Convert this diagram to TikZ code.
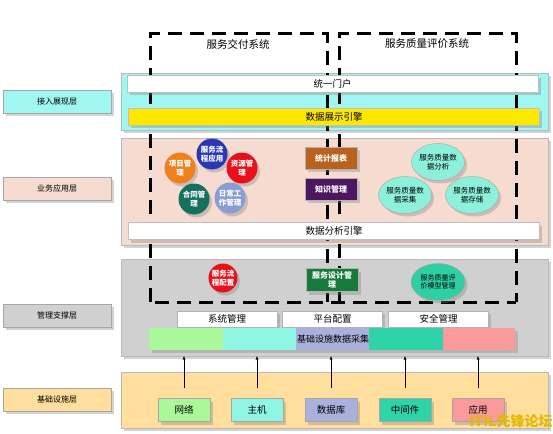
\documentclass[tikz,border=0pt]{standalone}
\usepackage{fontspec}
\setmainfont{Noto Sans CJK SC}
\usepackage{tikz}
\usetikzlibrary{shapes, arrows.meta, positioning, shadows}
\definecolor{accesscyan}{RGB}{160, 246, 240}
\definecolor{bizsalmon}{RGB}{246, 220, 208}
\definecolor{mgmtgrey}{RGB}{208, 208, 208}
\definecolor{infraorange}{RGB}{255, 222, 158}
\definecolor{showyellow}{RGB}{255, 232, 0}
\definecolor{projorange}{RGB}{240, 128, 30}
\definecolor{flowblue}{RGB}{42, 56, 184}
\definecolor{resred}{RGB}{232, 16, 26}
\definecolor{contteal}{RGB}{22, 112, 94}
\definecolor{dailylav}{RGB}{138, 156, 212}
\definecolor{statbrown}{RGB}{184, 98, 30}
\definecolor{knowpurple}{RGB}{76, 22, 96}
\definecolor{designgreen}{RGB}{22, 122, 58}
\definecolor{qualmint}{RGB}{140, 240, 218}
\definecolor{evalteal}{RGB}{45, 207, 163}
\definecolor{netgreen}{RGB}{170, 248, 154}
\definecolor{hostcyan}{RGB}{143, 246, 228}
\definecolor{dblav}{RGB}{170, 176, 220}
\definecolor{midteal}{RGB}{46, 212, 168}
\definecolor{apppink}{RGB}{250, 154, 154}
\definecolor{markyellow}{RGB}{225, 185, 0}

\begin{document}
\begin{tikzpicture}[x=1pt, y=-1pt,
    shade/.style={drop shadow={opacity=0.35, shadow xshift=2.5pt, shadow yshift=-3pt}},
    layerlabel/.style={draw=gray!70, shade, minimum width=108pt, minimum height=23pt, inner sep=0pt, font=\fontsize{8}{9}\selectfont},
    panel/.style={draw=gray!55, shade, minimum width=427pt, inner sep=0pt},
    bar/.style={draw=gray!50, fill=white, shade, minimum width=411pt, minimum height=17pt, inner sep=0pt, font=\fontsize{9.5}{10}\selectfont},
    ball/.style={circle, shade, minimum size=31pt, inner sep=0pt, text=white, align=center, font=\fontsize{7.5}{8.5}\selectfont\bfseries},
    egg/.style={ellipse, draw=gray!70, shade, minimum width=52pt, minimum height=37pt, inner sep=0pt, align=center, font=\fontsize{7.5}{8.5}\selectfont},
    tag/.style={draw=gray!60, shade, minimum width=52pt, minimum height=22pt, inner sep=0pt, text=white, align=center, font=\fontsize{8}{9}\selectfont\bfseries},
    cell/.style={draw=gray!60, fill=white, shade, minimum width=100pt, minimum height=16pt, inner sep=0pt, font=\fontsize{9.5}{10}\selectfont},
    infra/.style={draw=gray!70, shade, minimum width=52pt, minimum height=23pt, inner sep=0pt, font=\fontsize{9.5}{10}\selectfont},
    sysframe/.style={draw=black, line width=3pt, dash pattern=on 14pt off 8pt},
    >={Stealth[length=4pt, width=3pt]}]
    \useasboundingbox (0,0) rectangle (553,433);

    % Layer labels
    \node[layerlabel, fill=accesscyan] (laccess) at (57,101.5) {接入展现层};
    \node[layerlabel, fill=bizsalmon] (lbiz) at (57,188.5) {业务应用层};
    \node[layerlabel, fill=mgmtgrey] (lmgmt) at (57,315.5) {管理支撑层};
    \node[layerlabel, fill=infraorange] (linfra) at (57,399.5) {基础设施层};

    % Layer panels
    \node[panel, fill=accesscyan, minimum height=57pt] (access) at (334.5,101.5) {};
    \node[panel, fill=bizsalmon, minimum height=107pt] (biz) at (334.5,191.5) {};
    \node[panel, fill=mgmtgrey, minimum height=97pt] (mgmt) at (334.5,307.5) {};
    \node[panel, fill=infraorange, minimum height=56pt] (infra) at (334.5,400) {};

    % System frames
    \draw[sysframe] (150,302) -- (150,34) -- (327,34) -- (327,302);
    \draw[sysframe] (339,302) -- (339,34) -- (516,34) -- (516,302);
    \draw[sysframe] (155,302) -- (516,302);
    \node[font=\fontsize{10.5}{11}\selectfont] (tdeliver) at (238,44) {服务交付系统};
    \node[font=\fontsize{10.5}{11}\selectfont] (tquality) at (427,44) {服务质量评价系统};

    % Access layer
    \node[bar] (portal) at (332.5,83.5) {统一门户};
    \node[bar, fill=showyellow] (showeng) at (334,116.5) {数据展示引擎};

    % Business layer
    \node[ball, fill=projorange] (proj) at (180,168) {项目管\\理};
    \node[ball, fill=flowblue] (flowapp) at (212,154) {服务流\\程应用};
    \node[ball, fill=resred] (res) at (242,168) {资源管\\理};
    \node[ball, fill=contteal] (cont) at (194,199) {合同管\\理};
    \node[ball, fill=dailylav] (daily) at (230,198) {日常工\\作管理};
    \node[tag, fill=statbrown] (stat) at (331,158) {统计报表};
    \node[tag, fill=knowpurple] (know) at (331,189) {知识管理};
    \node[egg, fill=qualmint] (qanal) at (438,162) {服务质量数\\据分析};
    \node[egg, fill=qualmint] (qcoll) at (405,195) {服务质量数\\据采集};
    \node[egg, fill=qualmint] (qstore) at (472,195) {服务质量数\\据存储};
    \node[bar] (analeng) at (334,231) {数据分析引擎};

    % Management layer
    \node[ball, fill=resred, minimum size=29pt] (flowcfg) at (223,278) {服务流\\程配置};
    \node[tag, fill=designgreen, minimum height=23pt] (design) at (332,280) {服务设计管\\理};
    \node[egg, fill=evalteal, minimum width=54pt, font=\fontsize{7}{8}\selectfont] (evalm) at (438,282) {服务质量评\\价模型管理};
    \node[cell] (sysm) at (227,319) {系统管理};
    \node[cell] (platc) at (332.5,319) {平台配置};
    \node[cell] (secm) at (438.5,319) {安全管理};
    \node[fill=netgreen, minimum width=74pt, minimum height=22pt, inner sep=0pt, shade] (s1) at (186,339) {};
    \node[fill=hostcyan, minimum width=73pt, minimum height=22pt, inner sep=0pt, shade] (s2) at (259.5,339) {};
    \node[fill=dblav, minimum width=73pt, minimum height=22pt, inner sep=0pt, shade] (s3) at (332.5,339) {};
    \node[fill=midteal, minimum width=74pt, minimum height=22pt, inner sep=0pt, shade] (s4) at (406,339) {};
    \node[fill=apppink, minimum width=72pt, minimum height=22pt, inner sep=0pt, shade] (s5) at (479,339) {};
    \node[font=\fontsize{9}{10}\selectfont] (collect) at (333,339) {基础设施数据采集};

    % Infrastructure layer
    \node[infra, fill=netgreen] (net) at (184,410) {网络};
    \node[infra, fill=hostcyan] (host) at (257,410) {主机};
    \node[infra, fill=dblav] (db) at (331,410) {数据库};
    \node[infra, fill=midteal] (mid) at (405,410) {中间件};
    \node[infra, fill=apppink] (app) at (478,410) {应用};
    \foreach \b in {net, host, db, mid, app}
        \draw[->, thin] ([yshift=10pt]\b.north) -- (\b.north |- mgmt.south);

    % Watermark
    \node[text=markyellow, font=\fontsize{14}{15}\selectfont\bfseries] (mark) at (511,421) {ITIL先锋论坛};
\end{tikzpicture}
\end{document}
